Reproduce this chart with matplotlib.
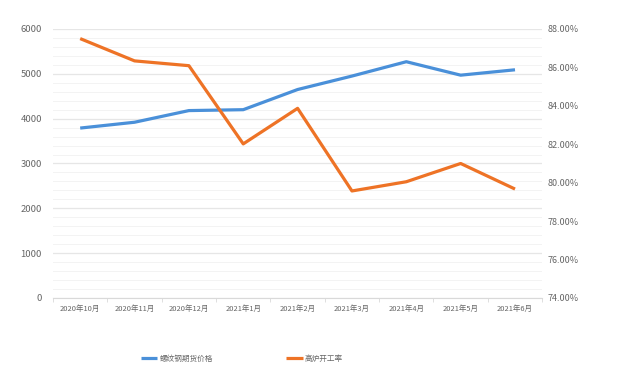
import matplotlib
matplotlib.use("Agg")
import matplotlib.pyplot as plt
import numpy as np
from matplotlib.ticker import MultipleLocator, FuncFormatter

plt.rcParams['font.family'] = ['Noto Sans CJK SC', 'DejaVu Sans']

categories = ["2020年10月", "2020年11月", "2020年12月", "2021年1月", "2021年2月",
              "2021年3月", "2021年4月", "2021年5月", "2021年6月"]
rebar_price = [3790, 3920, 4180, 4200, 4650, 4950, 5270, 4970, 5090]
blast_rate = [87.50, 86.34, 86.09, 82.02, 83.87, 79.57, 80.05, 81.00, 79.67]

blue = "#4A90D9"
orange = "#EE7326"
tick_color = "#666666"

fig = plt.figure(figsize=(6.2, 3.84), dpi=100)
ax = fig.add_axes([0.0855, 0.224, 0.789, 0.7005])
ax2 = ax.twinx()

x = np.arange(len(categories))
ax.set_xlim(-0.5, len(categories) - 0.5)
ax.set_ylim(0, 6000)
ax2.set_ylim(74, 88)

# gridlines
ax.yaxis.set_major_locator(MultipleLocator(1000))
ax.yaxis.set_minor_locator(MultipleLocator(200))
ax.grid(axis='y', which='major', color='#E6E6E6', linewidth=0.9)
ax.grid(axis='y', which='minor', color='#F3F3F3', linewidth=0.7)
ax.set_axisbelow(True)

l1, = ax.plot(x, rebar_price, color=blue, linewidth=2.3, label="螺纹钢期货价格", solid_capstyle='butt', zorder=3)
l2, = ax2.plot(x, blast_rate, color=orange, linewidth=2.3, label="高炉开工率", solid_capstyle='butt', zorder=3)

for a in (ax, ax2):
    for s in ('top', 'left', 'right'):
        a.spines[s].set_visible(False)
    a.spines['bottom'].set_color('#D9D9D9')
ax2.spines['bottom'].set_visible(False)

ax.set_xticks(x)
ax.set_xticklabels(categories)
ax.set_xticks(np.arange(-0.5, len(categories), 1), minor=True)
ax.tick_params(axis='x', which='major', length=0, labelsize=5.4, colors=tick_color, pad=5)
ax.tick_params(axis='x', which='minor', length=3, color='#D9D9D9')
ax.tick_params(axis='y', which='both', length=0, labelsize=6.8, colors=tick_color, pad=8)

ax2.yaxis.set_major_locator(MultipleLocator(2))
ax2.yaxis.set_major_formatter(FuncFormatter(lambda v, p: f"{v:.2f}%"))
ax2.tick_params(axis='y', length=0, labelsize=6.5, colors=tick_color, pad=4)

leg = fig.legend(handles=[l1, l2], loc='center', bbox_to_anchor=(0.39, 0.065),
                 ncol=2, frameon=False, fontsize=5.5, handlelength=2.2,
                 columnspacing=9.5, handletextpad=0.3)
for t in leg.get_texts():
    t.set_color(tick_color)

fig.savefig("out.png", dpi=100)
